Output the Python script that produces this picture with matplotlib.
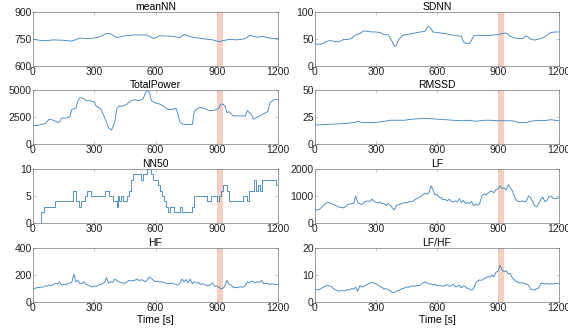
import numpy as np
import matplotlib
matplotlib.use('Agg')
import matplotlib.pyplot as plt

plt.rcParams['font.family'] = ['Liberation Sans', 'DejaVu Sans']

# smooth series: (time, value)
mean_nn_t = [0, 20, 50, 100, 150, 190, 230, 280, 320, 360, 380, 410, 450, 500, 560, 590, 620,
             680, 720, 740, 780, 830, 880, 910, 960, 1000, 1040, 1060, 1100, 1120, 1160, 1200]
mean_nn = [748, 745, 740, 745, 743, 738, 755, 752, 760, 780, 779, 758, 768, 773, 772, 752, 768,
           765, 758, 775, 760, 752, 745, 735, 748, 745, 752, 770, 760, 765, 755, 752]

sdnn_t = [0, 20, 40, 60, 80, 100, 120, 140, 160, 180, 200, 220, 240, 260, 280, 300, 320, 340,
          360, 380, 390, 400, 410, 430, 450, 480, 500, 520, 540, 555, 565, 580, 600, 640, 680,
          700, 720, 730, 740, 760, 770, 780, 800, 830, 860, 900, 920, 940, 960, 980, 1000, 1020,
          1040, 1060, 1080, 1100, 1120, 1140, 1160, 1180, 1200]
sdnn = [41, 40, 42, 46, 47, 45, 45, 49, 49, 51, 58, 60, 65, 64, 63, 63, 62, 58,
        58, 45, 36, 38, 48, 57, 58, 60, 62, 63, 64, 73, 72, 63, 62, 60, 57,
        56, 55, 45, 42, 42, 48, 56, 57, 56, 57, 58, 60, 61, 55, 52, 51, 51,
        56, 50, 48, 50, 52, 57, 62, 63, 63]

tp_t = [0, 20, 40, 60, 80, 100, 120, 130, 140, 160, 180, 190, 210, 220, 230, 250, 260, 280, 300,
        310, 330, 350, 370, 385, 400, 410, 420, 440, 460, 480, 500, 520, 540, 550, 560, 570, 580,
        600, 620, 640, 660, 680, 700, 710, 720, 740, 760, 780, 790, 800, 820, 840, 860, 880, 900,
        910, 920, 930, 940, 950, 960, 980, 1000, 1020, 1040, 1050, 1060, 1070, 1080, 1100, 1120,
        1140, 1150, 1160, 1180, 1200]
tp = [1700, 1700, 1800, 1900, 2300, 2200, 2000, 2050, 2400, 2400, 2500, 3200, 3300, 4000, 4300,
      4200, 4000, 4000, 3900, 3500, 3300, 2500, 1500, 1300, 2000, 3200, 3500, 3500, 3700, 4000,
      4100, 4000, 4200, 4700, 5000, 4800, 4000, 3800, 3700, 3500, 3200, 3200, 3300, 2800, 2000,
      1800, 1800, 1800, 3000, 3200, 3400, 3300, 3100, 3100, 3200, 3300, 3700, 3700, 3500, 2900,
      3000, 2600, 2600, 2600, 2600, 3100, 2900, 2700, 2300, 2500, 2700, 2900, 3000, 3800, 4100,
      4100]

rmssd_t = [0, 20, 40, 100, 150, 200, 210, 230, 260, 300, 340, 370, 400, 440, 480, 520, 560, 600,
           640, 680, 720, 760, 790, 830, 860, 900, 940, 970, 1000, 1040, 1060, 1100, 1120, 1160,
           1200]
rmssd = [18, 17.5, 18, 18.5, 19, 20, 21, 20, 20, 20, 21, 22, 22, 22, 23, 23.5, 23.5, 23,
         22.5, 22, 21.5, 22, 21, 22, 22, 21.5, 21.5, 21.5, 20, 20, 21, 22, 21.5, 22.5, 21.5]

# NN50 is a step series: value holds from each time until the next
nn50_t = [0, 41, 55, 110, 196, 210, 225, 235, 255, 265, 285, 355, 370, 390, 410, 415, 420, 430,
          440, 460, 470, 480, 490, 530, 540, 560, 580, 590, 610, 620, 630, 640, 650, 660, 670,
          690, 720, 730, 780, 790, 850, 870, 900, 910, 920, 930, 950, 960, 1030, 1050, 1060,
          1080, 1090, 1100, 1110, 1120, 1190, 1200]
nn50 = [0, 2, 3, 4, 6, 4, 3, 4, 5, 6, 5, 6, 5, 4, 3, 5, 4, 5,
        4, 5, 6, 8, 9, 8, 9, 10, 9, 8, 7, 6, 5, 4, 3, 2, 3,
        2, 3, 2, 3, 5, 4, 5, 4, 5, 6, 7, 6, 4, 5, 4, 6,
        8, 6, 7, 6, 8, 7, 7]

# noisy series sampled every 10 s
t10 = np.arange(0, 1201, 10)
lf = [520, 480, 500, 560, 650, 700, 760, 760, 720, 690, 650, 620, 580, 570, 560, 600, 680, 700,
      720, 720, 1000, 760, 720, 680, 760, 800, 820, 800, 880, 800, 760, 740, 780, 720, 720, 640,
      720, 660, 560, 480, 640, 680, 700, 720, 760, 740, 780, 800, 800, 860, 900, 940, 980, 1040,
      1100, 1060, 1120, 1380, 1240, 1040, 1060, 960, 940, 860, 880, 820, 880, 800, 780, 820, 780,
      900, 760, 840, 720, 760, 720, 800, 640, 700, 660, 720, 1000, 1080, 1040, 1100, 1160, 1180,
      1120, 1240, 1260, 1380, 1280, 1300, 1220, 1420, 1300, 1200, 1000, 840, 800, 800, 820, 780,
      820, 1000, 940, 800, 640, 600, 720, 880, 960, 800, 820, 980, 1000, 920, 900, 920, 940]
hf = [104, 100, 108, 106, 112, 110, 120, 118, 125, 122, 130, 140, 132, 150, 125, 130, 128, 135,
      140, 145, 205, 150, 160, 135, 140, 150, 130, 125, 118, 110, 120, 115, 125, 130, 135, 145,
      180, 140, 150, 145, 170, 160, 150, 145, 140, 138, 150, 160, 155, 158, 162, 170, 158, 165,
      160, 150, 165, 185, 175, 160, 150, 155, 148, 150, 145, 140, 135, 138, 140, 135, 130, 125,
      140, 170, 150, 165, 140, 170, 135, 150, 140, 145, 130, 135, 128, 125, 120, 130, 140, 115,
      120, 110, 100, 100, 120, 160, 130, 125, 110, 105, 108, 110, 112, 110, 120, 150, 140, 155,
      150, 140, 150, 145, 160, 135, 140, 135, 130, 135, 132, 130, 130]
lf_hf = [4.7, 4.5, 4.6, 5.0, 5.5, 5.8, 6.2, 6.0, 5.8, 5.0, 4.5, 4.2, 4.0, 4.2, 4.1, 4.3, 4.6, 4.4,
         5.0, 4.8, 5.5, 4.0, 6.0, 5.5, 5.8, 6.2, 6.6, 7.0, 7.2, 7.0, 6.8, 6.2, 5.8, 5.4, 4.8, 5.0,
         4.5, 4.2, 3.6, 3.4, 4.0, 4.2, 4.6, 5.0, 5.2, 5.6, 5.4, 5.8, 6.0, 5.8, 6.2, 6.0, 6.4, 7.0,
         7.4, 7.2, 6.6, 6.8, 6.2, 6.6, 6.0, 6.2, 6.0, 5.8, 6.2, 6.4, 5.8, 6.0, 6.6, 5.6, 5.8, 6.2,
         5.2, 6.0, 5.6, 5.0, 4.8, 4.4, 5.0, 7.0, 7.8, 8.2, 8.0, 8.6, 9.0, 9.4, 9.2, 10.0, 9.4,
         11.0, 11.4, 13.6, 12.0, 11.2, 11.6, 10.4, 10.6, 9.0, 8.2, 7.6, 7.2, 7.0, 7.2, 6.8, 6.6,
         6.2, 4.8, 4.6, 4.4, 5.0, 5.2, 6.8, 7.0, 6.6, 6.8, 6.6, 6.8, 6.6, 7.0, 6.8, 7.0]

panels = [
    ('meanNN', mean_nn_t, mean_nn, [600, 750, 900]),
    ('SDNN', sdnn_t, sdnn, [0, 50, 100]),
    ('TotalPower', tp_t, tp, [0, 2500, 5000]),
    ('RMSSD', rmssd_t, rmssd, [0, 25, 50]),
    ('NN50', nn50_t, nn50, [0, 5, 10]),
    ('LF', t10, lf, [0, 1000, 2000]),
    ('HF', t10, hf, [0, 200, 400]),
    ('LF/HF', t10, lf_hf, [0, 10, 20]),
]

W, H = 568, 332
fig = plt.figure(figsize=(W / 100, H / 100), dpi=100)
lefts = [33, 315]
widths = [245, 244]
tops = [12, 90, 169, 248]
ax_h = 54

for i, (name, t, y, yt) in enumerate(panels):
    row, col = divmod(i, 2)
    ax = fig.add_axes([lefts[col] / W, 1 - (tops[row] + ax_h) / H, widths[col] / W, ax_h / H])
    ax.axvspan(900, 930, color='#f6cfc0', lw=0)
    ds = 'steps-post' if name == 'NN50' else 'default'
    ax.plot(t, y, color='#3580c2', lw=0.6, drawstyle=ds)
    ax.set_xlim(0, 1200)
    ax.set_ylim(yt[0], yt[-1])
    ax.set_xticks([0, 300, 600, 900, 1200])
    ax.set_yticks(yt)
    ax.tick_params(direction='in', length=2.5, width=0.5, labelsize=7.5, pad=1,
                   top=True, right=True, colors='#b0b0b0', labelcolor='#222222')
    for s in ax.spines.values():
        s.set_linewidth(0.5)
        s.set_color('#777777')
    ax.set_title(name, fontsize=7.5, pad=1.5)
    if row == 3:
        ax.set_xlabel('Time [s]', fontsize=7.5, labelpad=1)

fig.savefig('out.png', dpi=100)
